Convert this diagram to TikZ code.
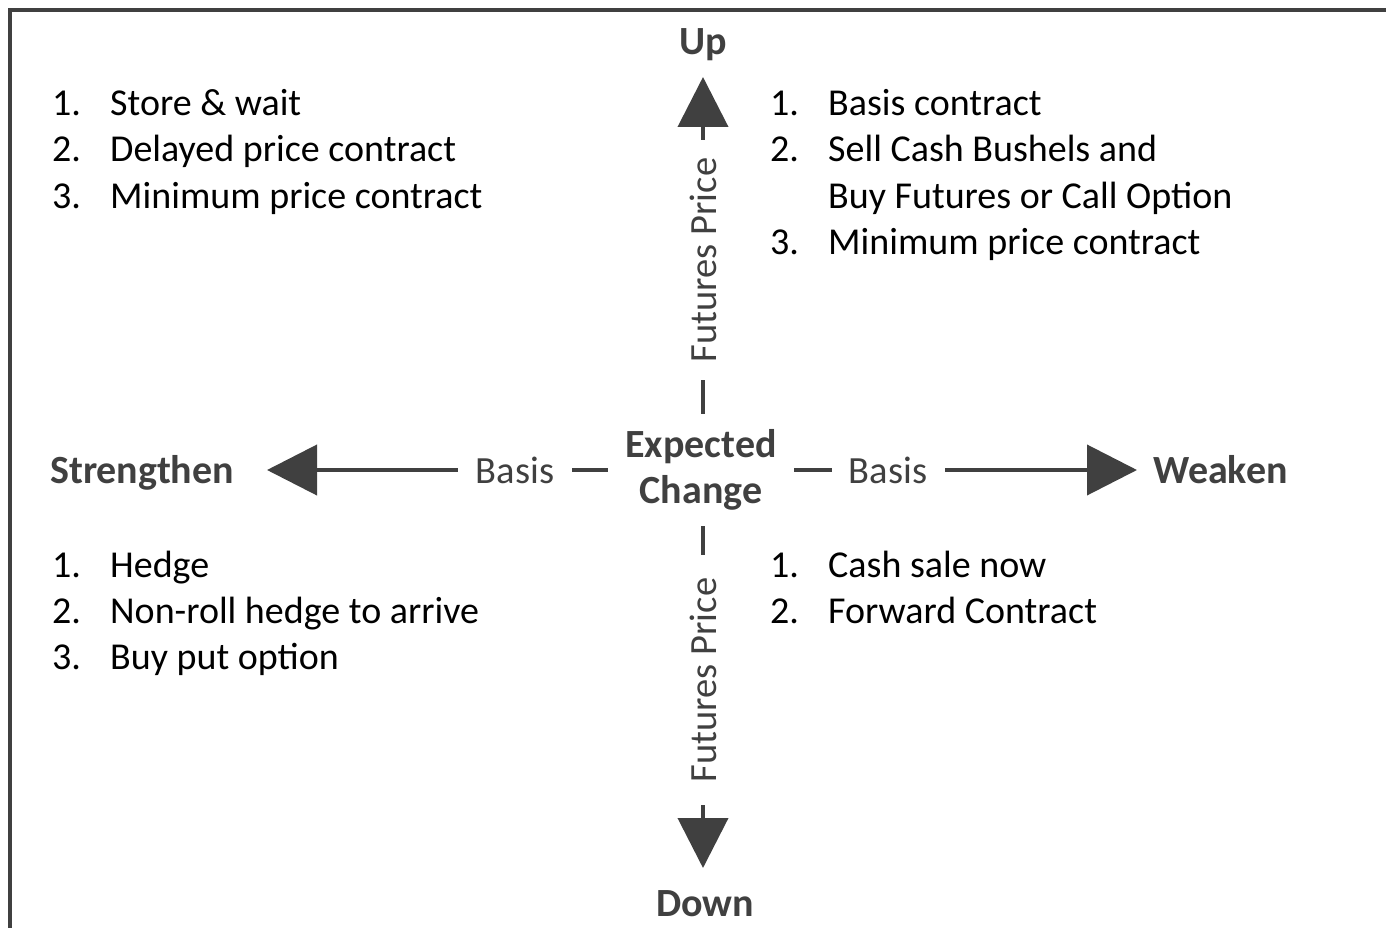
\documentclass[tikz,border=0pt]{standalone}
\usepackage{fontspec}
\setmainfont{Carlito}
\usetikzlibrary{arrows.meta}
\definecolor{dg}{HTML}{404040}
\begin{document}
\begin{tikzpicture}[x=1pt,y=-1pt,
  lbl/.style={font=\fontsize{40}{46}\selectfont\bfseries, text=dg, inner sep=0pt},
  item/.style={font=\fontsize{38}{46}\selectfont, text=black, anchor=base west, inner sep=0pt},
  axlab/.style={font=\fontsize{38.5}{46}\selectfont, text=dg, fill=white, inner sep=0pt, minimum height=40pt},
  axis/.style={draw=dg, line width=4pt, -{Triangle[length=50pt,width=50pt]}}
]
\useasboundingbox (0,0) rectangle (1386,928);
\draw[dg, line width=4pt] (10,940) -- (10,10) -- (1400,10);

% end labels
\node[lbl, anchor=base] (up) at (703,55) {Up};
\node[lbl, anchor=base] (down) at (705,916) {Down};
\node[lbl, anchor=base west] (str) at (50,483) {Strengthen};
\node[lbl, anchor=base west] (weak) at (1153,483) {Weaken};
\node[lbl, align=center, minimum width=186pt, minimum height=112pt] (ec) at (701,470) {Expected\\Change};

\coordinate (upT) at (703,77);
\coordinate (downT) at (703,868);
\coordinate (strT) at (267,470);
\coordinate (weakT) at (1137,470);

% axes
\draw[axis] (ec.north -| upT) -- (upT);
\draw[axis] (ec.south -| downT) -- (downT);
\draw[axis] (ec.west) -- (strT);
\draw[axis] (ec.east) -- (weakT);

% axis labels
\node[axlab, rotate=90, minimum width=240pt] (fp1) at (703,260) {Futures Price};
\node[axlab, rotate=90, minimum width=250pt] (fp2) at (703,680) {Futures Price};
\node[axlab, minimum width=114pt] (b1) at (515,470) {Basis};
\node[axlab, minimum width=113pt] (b2) at (888,470) {Basis};

% top-left list
\node[item] (tl1n) at (52,116) {1.};
\node[item] (tl1) at (110,116) {Store \& wait};
\node[item] (tl2n) at (52,162) {2.};
\node[item] (tl2) at (110,162) {Delayed price contract};
\node[item] (tl3n) at (52,208) {3.};
\node[item] (tl3) at (110,208) {Minimum price contract};

% top-right list
\node[item] (tr1n) at (770,116) {1.};
\node[item] (tr1) at (828,116) {Basis contract};
\node[item] (tr2n) at (770,162) {2.};
\node[item] (tr2) at (828,162) {Sell Cash Bushels and};
\node[item] (tr2b) at (828,208) {Buy Futures or Call Option};
\node[item] (tr3n) at (770,254) {3.};
\node[item] (tr3) at (828,254) {Minimum price contract};

% bottom-left list
\node[item] (bl1n) at (52,577) {1.};
\node[item] (bl1) at (110,577) {Hedge};
\node[item] (bl2n) at (52,623) {2.};
\node[item] (bl2) at (110,623) {Non-roll hedge to arrive};
\node[item] (bl3n) at (52,669) {3.};
\node[item] (bl3) at (110,669) {Buy put option};

% bottom-right list
\node[item] (br1n) at (770,577) {1.};
\node[item] (br1) at (828,577) {Cash sale now};
\node[item] (br2n) at (770,623) {2.};
\node[item] (br2) at (828,623) {Forward Contract};
\end{tikzpicture}
\end{document}
